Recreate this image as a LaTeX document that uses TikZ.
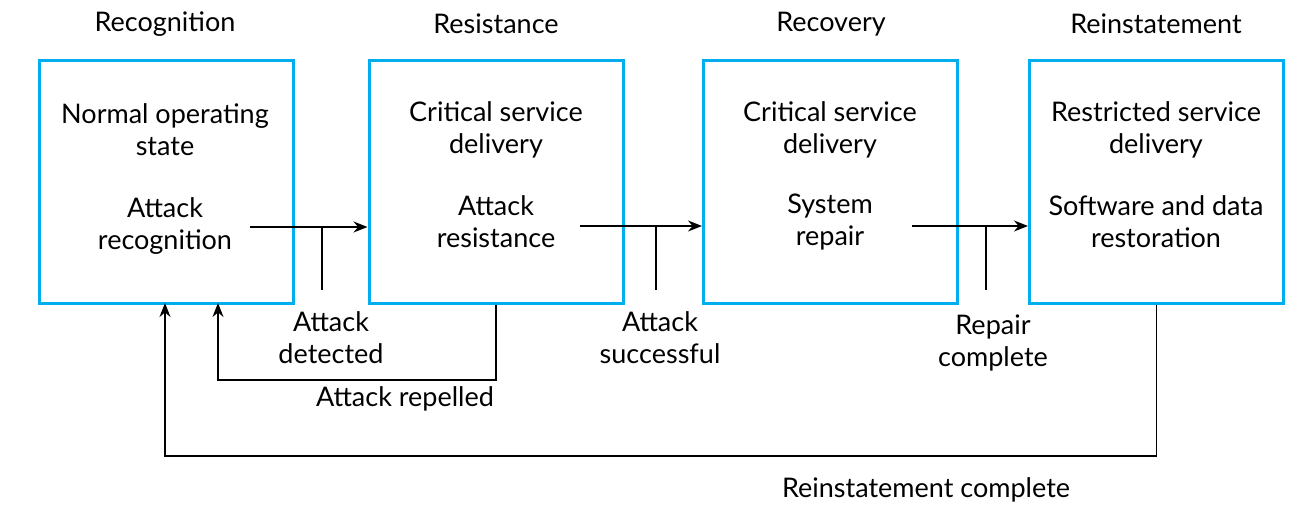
\documentclass[tikz,border=0pt]{standalone}
\usepackage{fontspec}
\setmainfont{Lato}
\usetikzlibrary{arrows.meta}
\definecolor{boxblue}{RGB}{0,174,239}
\begin{document}
\begin{tikzpicture}[x=1pt,y=-1pt,
  every node/.style={font=\fontsize{27}{32}\selectfont, inner sep=0pt, align=center},
  stage/.style={draw=boxblue, line width=3pt, minimum width=254pt, minimum height=242pt},
  conn/.style={line width=1.5pt, -{Stealth[length=14pt,width=11pt]}},
  tick/.style={line width=1.5pt}]
\useasboundingbox (0,0) rectangle (1307,513);
% boxes
\node[stage] (b1) at (166,182) {};
\node[stage] (b2) at (496,182) {};
\node[stage] (b3) at (830.5,182) {};
\node[stage] (b4) at (1156.5,182) {};
% titles
\node (t1) at (165,24) {Recognition};
\node (t2) at (496,24) {Resistance};
\node (t3) at (831,24) {Recovery};
\node (t4) at (1156,24) {Reinstatement};
% box texts
\node (s1) at (165,130) {Normal operating\\state};
\node (a1) at (165,226) {Attack\\recognition};
\node (s2) at (496,130) {Critical service\\delivery};
\node (a2) at (496,222) {Attack\\resistance};
\node (s3) at (830,130) {Critical service\\delivery};
\node (a3) at (830,222) {System\\repair};
\node (s4) at (1156,130) {Restricted service\\delivery};
\node (a4) at (1156,222) {Software and data\\restoration};
% labels
\node (l1) at (331,338) {Attack\\detected};
\node (l2) at (660,338) {Attack\\successful};
\node (l3) at (993,343) {Repair\\complete};
\node (l4) at (405,399) {Attack repelled};
\node (l5) at (926,490) {Reinstatement complete};
% coordinates
\coordinate (p1) at (250,227);
\coordinate (q1) at (322,227);
\coordinate (r1) at (322,290);
\coordinate (p2) at (580,226);
\coordinate (q2) at (656,226);
\coordinate (r2) at (656,290);
\coordinate (p3) at (912,226);
\coordinate (q3) at (986,226);
\coordinate (r3) at (986,290);
% forward transitions
\draw[conn] (p1) -- (p1 -| b2.west);
\draw[tick] (q1) -- (r1);
\draw[conn] (p2) -- (p2 -| b3.west);
\draw[tick] (q2) -- (r2);
\draw[conn] (p3) -- (p3 -| b4.west);
\draw[tick] (q3) -- (r3);
% feedback
\draw[conn] (b2.south) -- (496,380) -- (218,380) -- (218,303);
\draw[conn] (b4.south) -- (1156.5,456) -- (165,456) -- (165,303);
\end{tikzpicture}
\end{document}
